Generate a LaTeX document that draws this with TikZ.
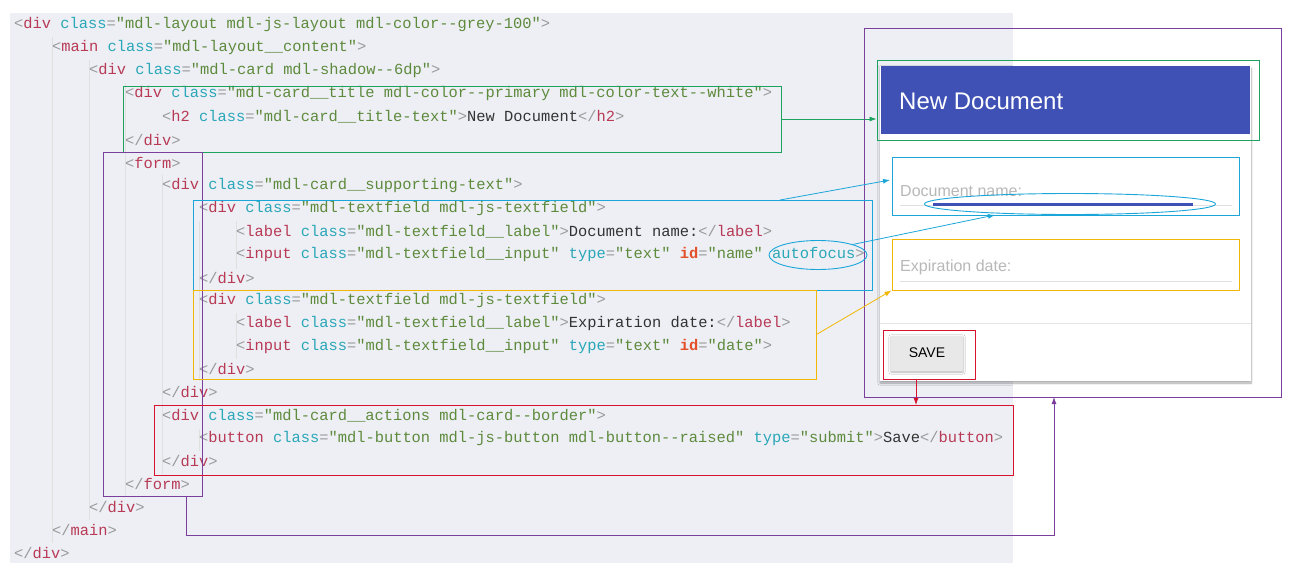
\documentclass[tikz,border=0pt]{standalone}
\usepackage{fontspec}
\setmainfont{Liberation Sans}
\setmonofont{Liberation Mono}
\usetikzlibrary{arrows.meta,shadows.blur,shapes.geometric}
\definecolor{cp}{HTML}{9A9A9A}
\definecolor{ct}{HTML}{B83A55}
\definecolor{ca}{HTML}{2AA7B8}
\definecolor{cv}{HTML}{5E8A3C}
\definecolor{cx}{HTML}{333333}
\definecolor{cid}{HTML}{E3502A}
\definecolor{bg}{HTML}{EDEFF5}
\definecolor{hlgreen}{HTML}{1EA35E}
\definecolor{hlpurple}{HTML}{7A3E9D}
\definecolor{hlblue}{HTML}{1BA6D9}
\definecolor{hlorange}{HTML}{F2B705}
\definecolor{hlred}{HTML}{D6122E}
\definecolor{mdl}{HTML}{3F51B5}
\newcommand\ot[1]{\textcolor{cp}{<}\textcolor{ct}{#1}}
\newcommand\gtr{\textcolor{cp}{>}}
\newcommand\cl[1]{\textcolor{cp}{</}\textcolor{ct}{#1}\textcolor{cp}{>}}
\newcommand\at[2]{ \textcolor{ca}{#1}\textcolor{cp}{=}\textcolor{cv}{"#2"}}
\begin{document}
\begin{tikzpicture}[x=1pt,y=-1pt,
  code/.style={anchor=west,inner sep=0pt,font=\ttfamily\fontsize{15.4}{16}\selectfont,text=cx},
  guide/.style={draw=black!12,line width=0.8pt},
  hl/.style={line width=0.9pt,inner sep=0pt},
  arr/.style={line width=0.8pt,-{Latex[length=7pt,width=5pt]}},
  ph/.style={anchor=west,inner sep=0pt,text=black!28,font=\fontsize{16}{18}\selectfont}]
\useasboundingbox (0,0) rectangle (1298,573);
\fill[bg] (10,13) rectangle (1013,563);
% indent guides
\foreach \x/\a/\b in {52/37/543, 89/60/520, 125/83/497, 162/175/474, 199/221/381, 236/221/269, 236/313/359, 199/429/451}
  \draw[guide] (\x,\a) -- (\x,\b);
\def\dy{22.96}
\node[code] (l1) at (14,25) {\ot{div}\at{class}{mdl-layout mdl-js-layout mdl-color--grey-100}\gtr};
\node[code] (l2) at (52,25+\dy) {\ot{main}\at{class}{mdl-layout\_\_content}\gtr};
\node[code] (l3) at (89,25+2*\dy) {\ot{div}\at{class}{mdl-card mdl-shadow--6dp}\gtr};
\node[code] (l4) at (125,25+3*\dy) {\ot{div}\at{class}{mdl-card\_\_title mdl-color--primary mdl-color-text--white}\gtr};
\node[code] (l5) at (162,25+4*\dy) {\ot{h2}\at{class}{mdl-card\_\_title-text}\gtr New Document\cl{h2}};
\node[code] (l6) at (125,25+5*\dy) {\cl{div}};
\node[code] (l7) at (125,25+6*\dy) {\ot{form}\gtr};
\node[code] (l8) at (162,25+7*\dy) {\ot{div}\at{class}{mdl-card\_\_supporting-text}\gtr};
\node[code] (l9) at (199,25+8*\dy) {\ot{div}\at{class}{mdl-textfield mdl-js-textfield}\gtr};
\node[code] (l10) at (236,25+9*\dy) {\ot{label}\at{class}{mdl-textfield\_\_label}\gtr Document name:\cl{label}};
\node[code] (l11) at (236,25+10*\dy) {\ot{input}\at{class}{mdl-textfield\_\_input}\at{type}{text} \textcolor{cid}{\textbf{id}}\textcolor{cp}{=}\textcolor{cv}{"name"} \textcolor{ca}{autofocus}\gtr};
\node[code] (l12) at (199,25+11*\dy) {\cl{div}};
\node[code] (l13) at (199,25+12*\dy) {\ot{div}\at{class}{mdl-textfield mdl-js-textfield}\gtr};
\node[code] (l14) at (236,25+13*\dy) {\ot{label}\at{class}{mdl-textfield\_\_label}\gtr Expiration date:\cl{label}};
\node[code] (l15) at (236,25+14*\dy) {\ot{input}\at{class}{mdl-textfield\_\_input}\at{type}{text} \textcolor{cid}{\textbf{id}}\textcolor{cp}{=}\textcolor{cv}{"date"}\gtr};
\node[code] (l16) at (199,25+15*\dy) {\cl{div}};
\node[code] (l17) at (162,25+16*\dy) {\cl{div}};
\node[code] (l18) at (162,25+17*\dy) {\ot{div}\at{class}{mdl-card\_\_actions mdl-card--border}\gtr};
\node[code] (l19) at (199,25+18*\dy) {\ot{button}\at{class}{mdl-button mdl-js-button mdl-button--raised}\at{type}{submit}\gtr Save\cl{button}};
\node[code] (l20) at (162,25+19*\dy) {\cl{div}};
\node[code] (l21) at (125,25+20*\dy) {\cl{form}};
\node[code] (l22) at (89,25+21*\dy) {\cl{div}};
\node[code] (l23) at (52,25+22*\dy) {\cl{main}};
\node[code] (l24) at (14,25+23*\dy) {\cl{div}};
% card
\fill[white,blur shadow={shadow blur steps=8,shadow xshift=0pt,shadow yshift=-2pt,shadow opacity=35}] (880,66) rectangle (1251,381);
\fill[mdl] (881,66) rectangle (1250,134);
\node[anchor=west,inner sep=0pt,text=white,font=\fontsize{24}{28}\selectfont] (title) at (899,101) {New Document};
\draw[black!10,line width=0.8pt] (880,323) -- (1251,323);
\node[ph] (f1) at (900,191) {Document name:};
\draw[black!12,line width=0.8pt] (900,205) -- (1232,205);
\draw[mdl,line width=2.5pt] (933,204.5) -- (1193,204.5);
\node[ph] (f2) at (900,267) {Expiration date:};
\draw[black!12,line width=0.8pt] (900,281) -- (1232,281);
\node[fill=black!9,minimum width=72pt,minimum height=35pt,inner sep=0pt,font=\fontsize{14}{16}\selectfont,blur shadow={shadow blur steps=4,shadow xshift=0pt,shadow yshift=-1.5pt,shadow opacity=30}] (save) at (927,353) {SAVE};
% highlight boxes
\node[hl,draw=hlgreen,minimum width=658pt,minimum height=66pt] (gL) at (452,119) {};
\node[hl,draw=hlgreen,minimum width=382pt,minimum height=80pt] (gR) at (1068,100) {};
\draw[arr,hlgreen] (gL.east) -- (gL.east -| gR.west);
\node[hl,draw=hlpurple,minimum width=99pt,minimum height=344pt] (pL) at (152.5,324) {};
\node[hl,draw=hlpurple,minimum width=417pt,minimum height=369pt] (pR) at (1072.5,212.5) {};
\coordinate (p1) at (186,496);
\coordinate (p2) at (1054,397);
\draw[arr,hlpurple] (p1) -- (186,535) -- (1054,535) -- (p2);
\node[hl,draw=hlblue,minimum width=679pt,minimum height=90pt] (bL) at (532.5,245) {};
\node[hl,draw=hlblue,minimum width=347pt,minimum height=58pt] (bR) at (1065.5,186) {};
\node[hl,draw=hlblue,ellipse,minimum width=98pt,minimum height=29pt] (eL) at (818,255) {};
\node[hl,draw=hlblue,ellipse,minimum width=291pt,minimum height=21pt] (eR) at (1070,204) {};
\coordinate (b1) at (780,200);
\coordinate (b2) at (890,180);
\coordinate (b3) at (995,215);
\draw[arr,hlblue] (b1) -- (b2);
\draw[arr,hlblue] (eL.north east) -- (b3);
\node[hl,draw=hlorange,minimum width=623pt,minimum height=89pt] (oL) at (504.5,334.5) {};
\node[hl,draw=hlorange,minimum width=347pt,minimum height=51pt] (oR) at (1065.5,264.5) {};
\draw[arr,hlorange] (oL.east) -- (oR.south west);
\node[hl,draw=hlred,minimum width=859pt,minimum height=70pt] (rL) at (583.5,440) {};
\node[hl,draw=hlred,minimum width=92pt,minimum height=49pt] (rR) at (929,354.5) {};
\draw[arr,hlred] (rR.south -| 916,379) -- (916,405);
\end{tikzpicture}
\end{document}
